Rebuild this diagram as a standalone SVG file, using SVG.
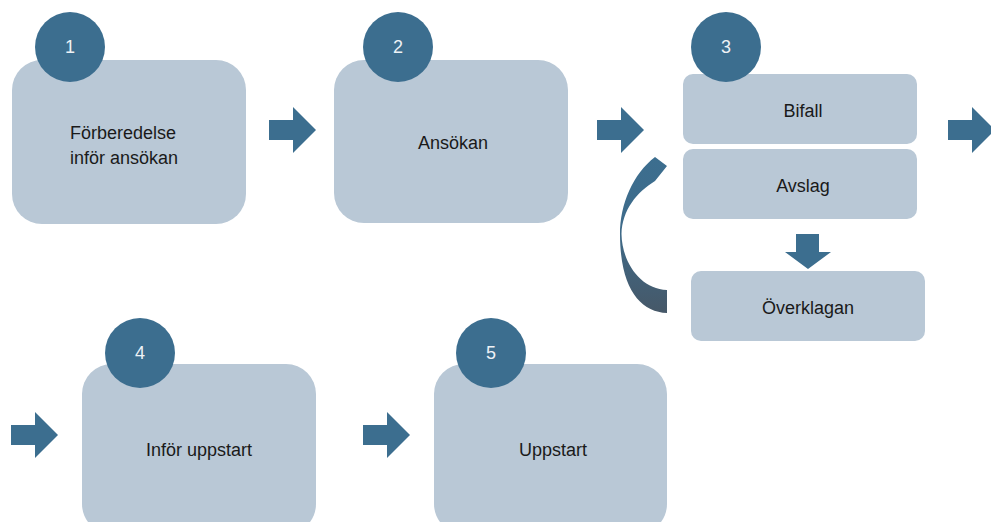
<svg xmlns="http://www.w3.org/2000/svg" width="991" height="522" viewBox="0 0 991 522">
<defs>
<style>
.box{fill:#b9c8d6}
.num{fill:#3c6e8f}
.arrow{fill:#3c6e8f}
.lbl{font-family:"Liberation Sans",Arial,sans-serif;font-size:18px;fill:#1a1a1a;text-anchor:middle}
.lblL{font-family:"Liberation Sans",Arial,sans-serif;font-size:18px;fill:#1a1a1a}
.n{font-family:"Liberation Sans",Arial,sans-serif;font-size:18px;fill:#eef2f6;text-anchor:middle}
</style>
<linearGradient id="cg" x1="0" y1="0" x2="0" y2="1">
<stop offset="0" stop-color="#3c6e8f"/>
<stop offset="0.45" stop-color="#3e6b8a"/>
<stop offset="1" stop-color="#465868"/>
</linearGradient>
</defs>
<rect width="991" height="522" fill="#ffffff"/>

<g id="step1">
<rect class="box" x="12" y="60" width="234" height="164" rx="30"/>
<circle class="num" cx="70" cy="47" r="35"/>
<text class="n" x="70" y="53">1</text>
<text class="lblL" x="70" y="139">Förberedelse</text>
<text class="lblL" x="70" y="164">inför ansökan</text>
</g>

<g id="step2">
<rect class="box" x="334" y="60" width="234" height="163" rx="30"/>
<circle class="num" cx="398" cy="47" r="35"/>
<text class="n" x="398" y="53">2</text>
<text class="lbl" x="453" y="149">Ansökan</text>
</g>

<g id="step3-bifall">
<rect class="box" x="683" y="74" width="234" height="70" rx="10"/>
<text class="lbl" x="803" y="117">Bifall</text>
</g>
<g id="step3-avslag">
<rect class="box" x="683" y="149" width="234" height="70" rx="10"/>
<text class="lbl" x="803" y="192">Avslag</text>
</g>
<g id="step3-badge">
<circle class="num" cx="726" cy="47" r="35"/>
<text class="n" x="726" y="53">3</text>
</g>
<g id="overklagan">
<rect class="box" x="691" y="271" width="234" height="70" rx="10"/>
<text class="lbl" x="808" y="314">Överklagan</text>
</g>

<g id="step4">
<rect class="box" x="82" y="364" width="234" height="170" rx="30"/>
<circle class="num" cx="140" cy="353" r="35"/>
<text class="n" x="140" y="359">4</text>
<text class="lbl" x="199" y="456">Inför uppstart</text>
</g>

<g id="step5">
<rect class="box" x="434" y="364" width="233" height="170" rx="30"/>
<circle class="num" cx="491" cy="353" r="35"/>
<text class="n" x="491" y="359">5</text>
<text class="lbl" x="553" y="456">Uppstart</text>
</g>

<g id="connectors">
<path class="arrow" d="M269,120 H293 V107 L316,130 L293,153 V140 H269 Z"/>
<path class="arrow" d="M597,120 H621 V107 L644,130 L621,153 V140 H597 Z"/>
<path class="arrow" d="M948,120 H972 V107 L995,130 L972,153 V140 H948 Z"/>
<path class="arrow" d="M796,234 H819 V252 H831 L808,269 L785,252 H796 Z"/>
<path class="arrow" d="M11,425 H35 V412 L58,435 L35,458 V445 H11 Z"/>
<path class="arrow" d="M363,425 H387 V412 L410,435 L387,458 V445 H363 Z"/>
<path fill="url(#cg)" d="M655,157 L667,166 L655,181 C637,192 622,210 621.5,234 C622,262 640,289 667,290 L667,313 C640,312 620,288 620,234 C620,204 633,174 655,157 Z"/>
</g>
</svg>
